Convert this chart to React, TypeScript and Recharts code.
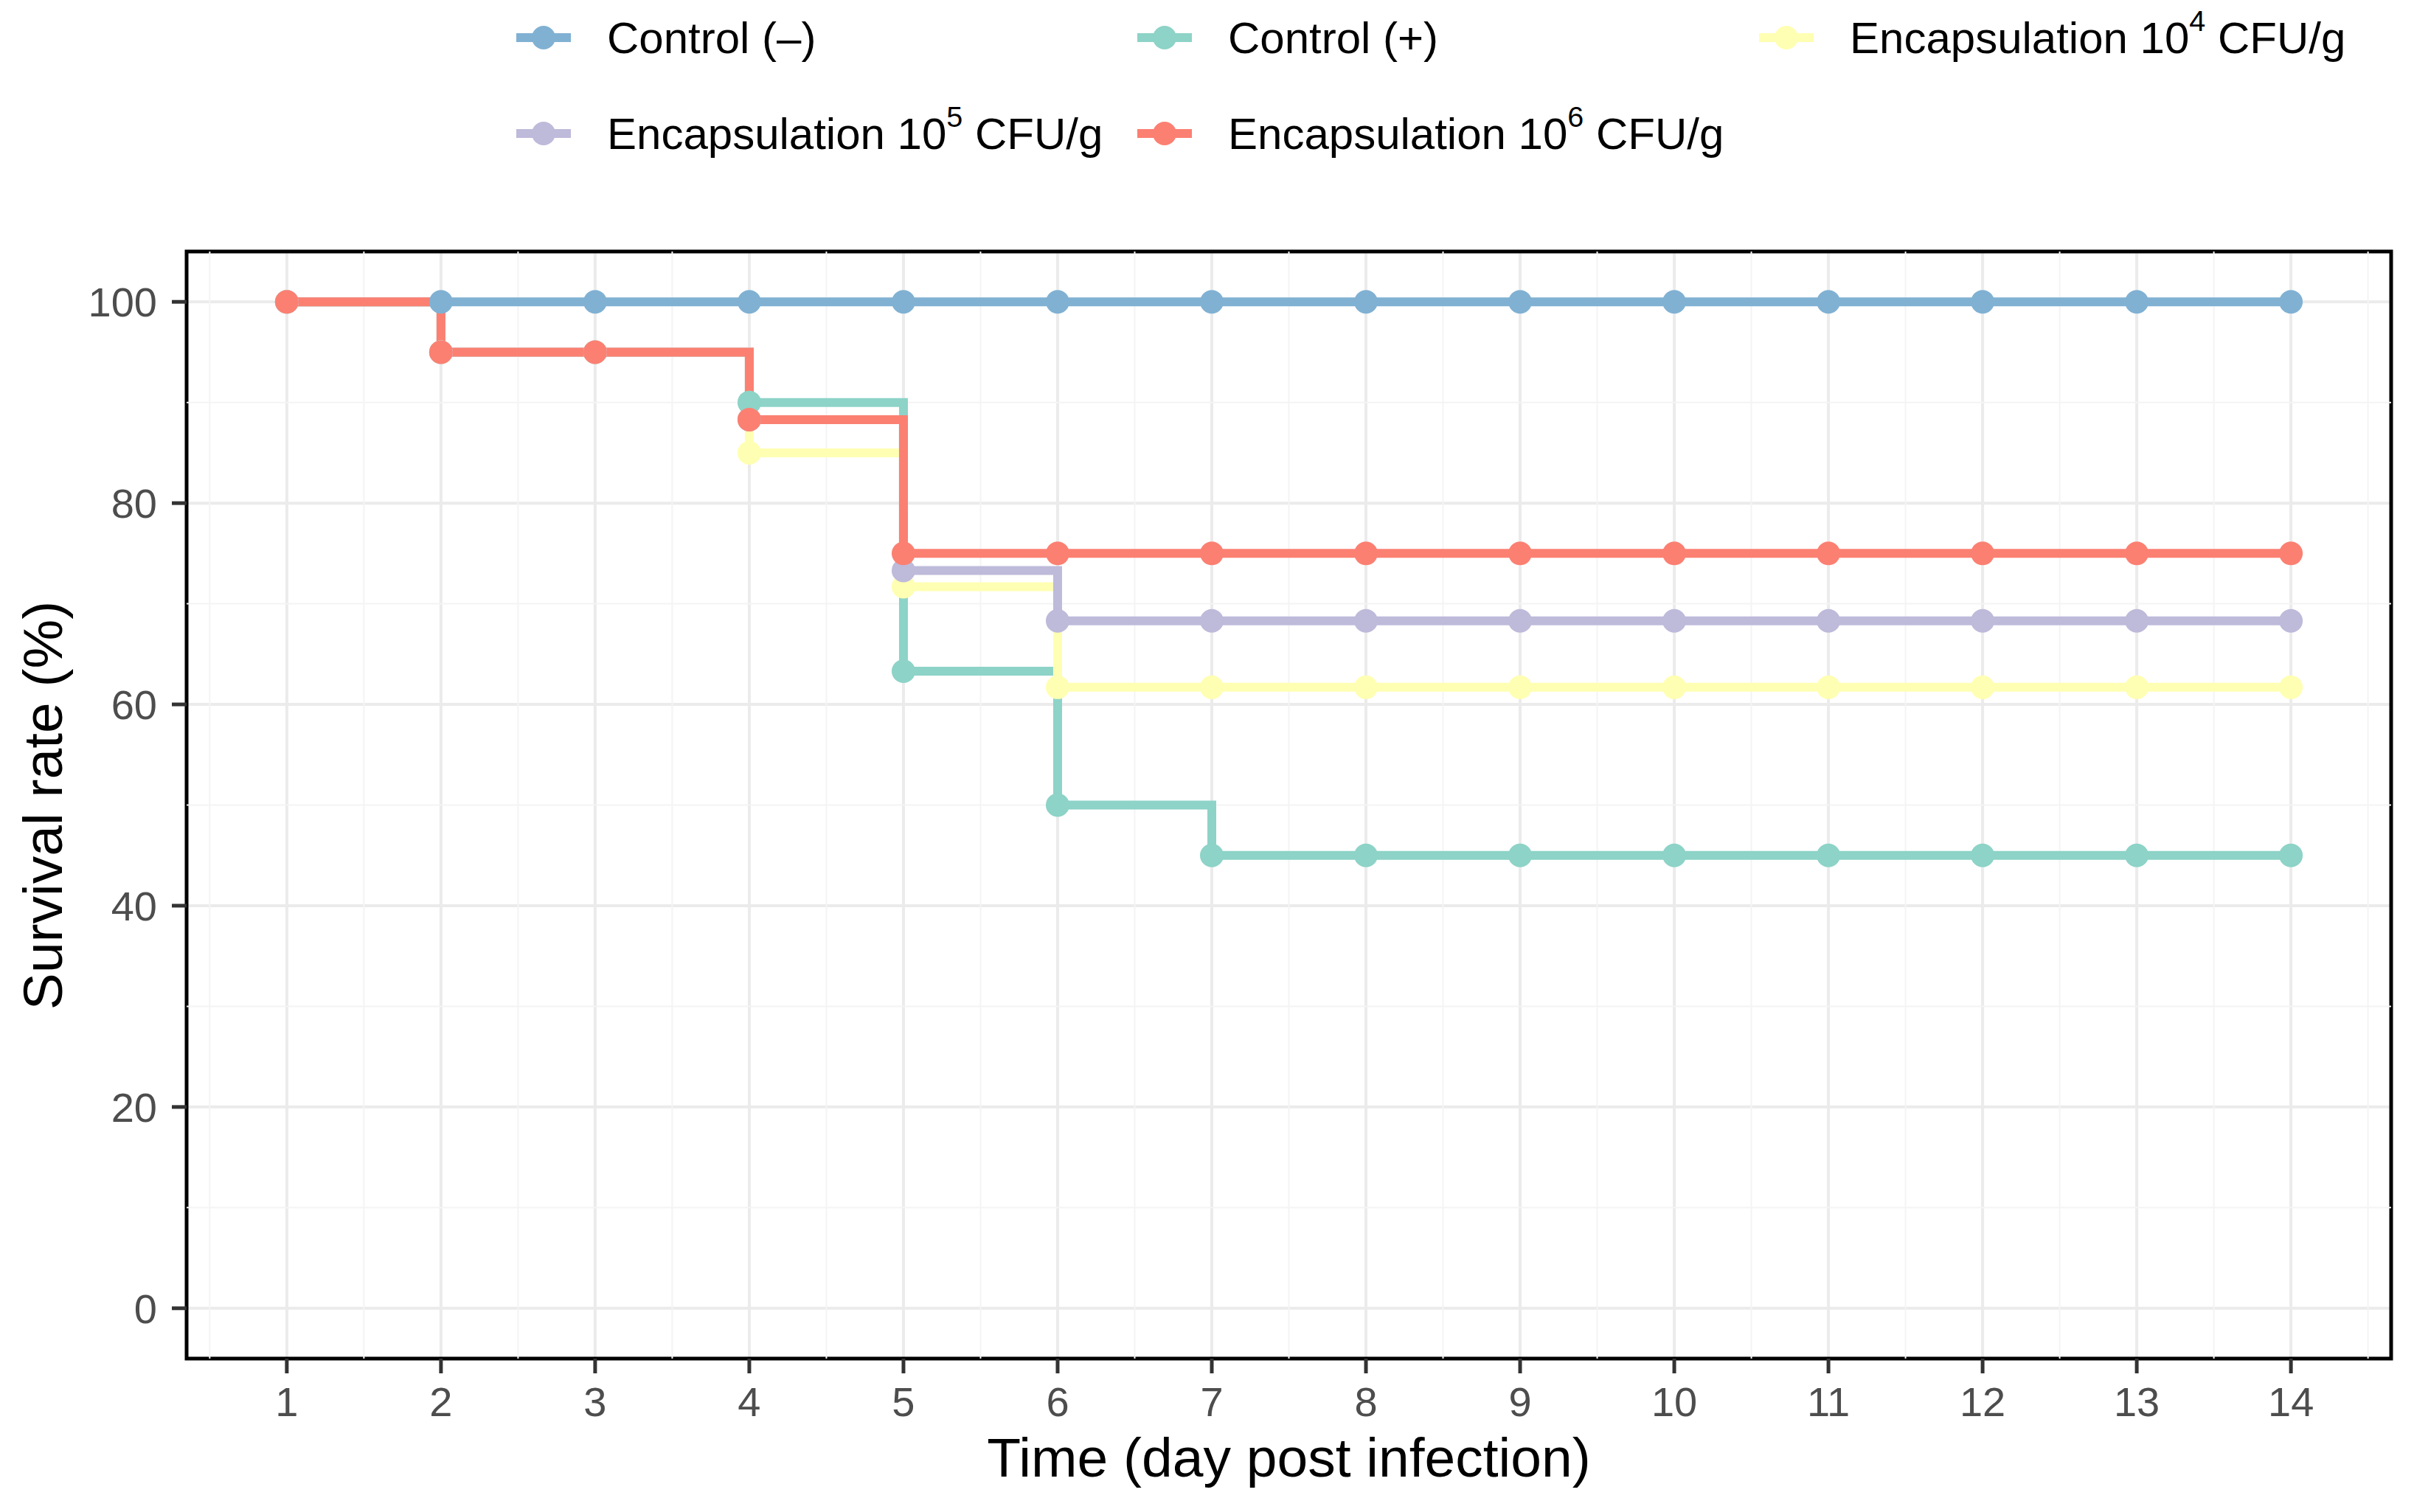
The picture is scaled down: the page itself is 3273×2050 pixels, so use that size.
import React from 'react';
import {
  LineChart,
  Line,
  XAxis,
  YAxis,
  CartesianGrid,
  Legend,
  ReferenceLine,
  ReferenceArea
} from 'recharts';

// survival (%) per day
const days = [1, 2, 3, 4, 5, 6, 7, 8, 9, 10, 11, 12, 13, 14];
const controlNeg = [100, 100, 100, 100, 100, 100, 100, 100, 100, 100, 100, 100, 100, 100];
const controlPos = [100, 95, 95, 90, 63.3, 50, 45, 45, 45, 45, 45, 45, 45, 45];
const encap4 = [100, 95, 95, 85, 71.7, 61.7, 61.7, 61.7, 61.7, 61.7, 61.7, 61.7, 61.7, 61.7];
const encap5 = [100, 95, 95, 88.3, 73.3, 68.3, 68.3, 68.3, 68.3, 68.3, 68.3, 68.3, 68.3, 68.3];
const encap6 = [100, 95, 95, 88.3, 75, 75, 75, 75, 75, 75, 75, 75, 75, 75];

const seriesKeys = ['neg', 'pos', 'e4', 'e5', 'e6'];
const seriesNames = [
  'Control (–)',
  'Control (+)',
  'Encapsulation 10^4 CFU/g',
  'Encapsulation 10^5 CFU/g',
  'Encapsulation 10^6 CFU/g'
];
const seriesColors = ['#80B1D3', '#8DD3C7', '#FFFFB3', '#BEBADA', '#FB8072'];

const xTicks = days;
const yTicks = [0, 20, 40, 60, 80, 100];
const xMinor = [0.5, 1.5, 2.5, 3.5, 4.5, 5.5, 6.5, 7.5, 8.5, 9.5, 10.5, 11.5, 12.5, 13.5, 14.5];
const yMinor = [10, 30, 50, 70, 90];

const data = days.map((d, i) => ({
  day: d,
  neg: controlNeg[i],
  pos: controlPos[i],
  e4: encap4[i],
  e5: encap5[i],
  e6: encap6[i]
}));

const FONT = '"Liberation Sans", Arial, Helvetica, sans-serif';
const LINE_W = 12;
const DOT_R = 16;

// "10^4" -> 10 with superscript 4
const renderName = (name: string) => {
  const parts = name.split(/\^(\d+)/);
  return parts.map((p, i) =>
    i % 2 === 1 ? (
      <sup key={i} style={{ fontSize: '0.66em', verticalAlign: 'baseline', position: 'relative', top: '-0.75em' }}>{p}</sup>
    ) : (
      <span key={i}>{p}</span>
    )
  );
};

const LegendContent = () => {
  const colX = [700, 1542, 2385];
  const rowY = [51, 181];
  return (
    <div style={{ position: 'relative', width: 3273, height: 240 }}>
      {seriesNames.map((name, i) => {
        const col = i % 3;
        const row = Math.floor(i / 3);
        return (
          <div
            key={name}
            style={{
              position: 'absolute',
              left: colX[col],
              top: rowY[row] - 40,
              height: 80,
              display: 'flex',
              alignItems: 'center',
              fontFamily: FONT,
              fontSize: 60,
              color: '#000',
              whiteSpace: 'nowrap'
            }}
          >
            <svg width={74} height={40} style={{ display: 'block' }}>
              <line x1={0} x2={74} y1={20} y2={20} stroke={seriesColors[i]} strokeWidth={LINE_W} />
              <circle cx={37} cy={20} r={DOT_R} fill={seriesColors[i]} />
            </svg>
            <span style={{ marginLeft: 49 }}>{renderName(name)}</span>
          </div>
        );
      })}
    </div>
  );
};

const XTitle = (props: any) => {
  const vb = props.viewBox || {};
  return (
    <text x={vb.x + vb.width / 2} y={2002} textAnchor="middle" fontFamily={FONT} fontSize={75} fill="#000">
      Time (day post infection)
    </text>
  );
};

const YTitle = () => (
  <text
    x={84}
    y={1092}
    transform="rotate(-90 84 1092)"
    textAnchor="middle"
    fontFamily={FONT}
    fontSize={75}
    fill="#000"
  >
    Survival rate (%)
  </text>
);

const App: React.FC = () => {
  return (
    <div style={{ position: 'absolute', left: 0, top: 0, width: 3273, height: 2050, background: '#fff' }}>
      <LineChart width={3273} height={2050} data={data} margin={{ top: 341, right: 31, bottom: 0, left: 0 }}>
        <CartesianGrid stroke="#EBEBEB" strokeWidth={4} />
        {xMinor.map(v => (
          <ReferenceLine key={'xm' + v} x={v} stroke="#F4F4F4" strokeWidth={2} />
        ))}
        {yMinor.map(v => (
          <ReferenceLine key={'ym' + v} y={v} stroke="#F4F4F4" strokeWidth={2} />
        ))}
        <XAxis
          dataKey="day"
          type="number"
          domain={[0.35, 14.65]}
          ticks={xTicks}
          allowDataOverflow
          height={208}
          axisLine={false}
          tickSize={20}
          tickMargin={18}
          tickLine={{ stroke: '#333', strokeWidth: 5 }}
          tick={{ fontSize: 56, fill: '#4D4D4D', fontFamily: FONT }}
          label={<XTitle />}
        />
        <YAxis
          type="number"
          domain={[-5, 105]}
          ticks={yTicks}
          allowDataOverflow
          width={253}
          axisLine={false}
          tickSize={20}
          tickMargin={20}
          tickLine={{ stroke: '#333', strokeWidth: 5 }}
          tick={{ fontSize: 56, fill: '#4D4D4D', fontFamily: FONT }}
          label={<YTitle />}
        />
        {seriesKeys.map((k, i) => (
          <Line
            key={k}
            dataKey={k}
            name={seriesNames[i]}
            type="stepAfter"
            stroke={seriesColors[i]}
            strokeWidth={LINE_W}
            strokeLinejoin="miter"
            dot={{ r: DOT_R, fill: seriesColors[i], stroke: 'none' }}
            activeDot={false}
            isAnimationActive={false}
          />
        ))}
        <ReferenceArea x1={0.35} x2={14.65} y1={-5} y2={105} fill="none" stroke="#000" strokeWidth={5} />
        <Legend
          layout="vertical"
          align="center"
          verticalAlign="middle"
          content={<LegendContent />}
          wrapperStyle={{ top: 0, left: 0, width: 3273, height: 240 }}
        />
      </LineChart>
    </div>
  );
};

export default App;
